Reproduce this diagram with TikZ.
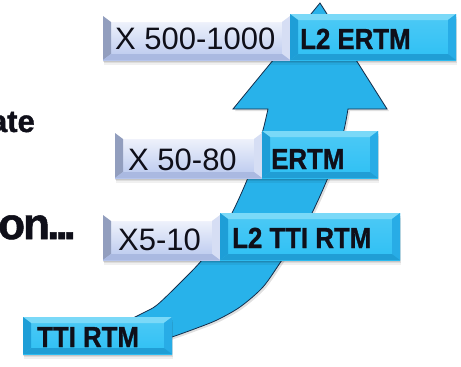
\documentclass[tikz,border=0pt]{standalone}
\usepackage{fontspec}
\setmainfont{Liberation Sans}
\newfontfamily\heavysans[FakeBold=1.2]{Liberation Sans}
\usetikzlibrary{shadows}

\definecolor{arrowfill}{RGB}{40,178,234}
\definecolor{arrowedge}{RGB}{20,45,75}
\definecolor{cyanbody}{RGB}{46,192,244}
\definecolor{cyantop}{RGB}{122,217,248}
\definecolor{cyanleft}{RGB}{30,158,215}
\definecolor{cyanright}{RGB}{40,172,230}
\definecolor{cyanbottom}{RGB}{32,158,213}
\definecolor{paletop}{RGB}{246,248,253}
\definecolor{palebottom}{RGB}{184,199,238}
\definecolor{palefacettop}{RGB}{255,255,255}
\definecolor{palefacetleft}{RGB}{146,158,190}
\definecolor{palefacetright}{RGB}{214,222,244}
\definecolor{palefacetbottom}{RGB}{170,185,225}
\definecolor{ink}{RGB}{15,15,25}

\newlength\facetx
\setlength\facetx{8pt}
\newlength\facety
\setlength\facety{6pt}

\tikzset{
  % bevelled edges: top, left, right, bottom faces
  facets/.style n args={4}{path picture={
    \fill[#1] (path picture bounding box.north west) -- (path picture bounding box.north east)
      -- ([shift={(-\facetx,-\facety)}]path picture bounding box.north east)
      -- ([shift={(\facetx,-\facety)}]path picture bounding box.north west) -- cycle;
    \fill[#2] (path picture bounding box.north west) -- ([shift={(\facetx,-\facety)}]path picture bounding box.north west)
      -- ([shift={(\facetx,\facety)}]path picture bounding box.south west)
      -- (path picture bounding box.south west) -- cycle;
    \fill[#3] (path picture bounding box.north east) -- ([shift={(-\facetx,-\facety)}]path picture bounding box.north east)
      -- ([shift={(-\facetx,\facety)}]path picture bounding box.south east)
      -- (path picture bounding box.south east) -- cycle;
    \fill[#4] (path picture bounding box.south west) -- ([shift={(\facetx,\facety)}]path picture bounding box.south west)
      -- ([shift={(-\facetx,\facety)}]path picture bounding box.south east)
      -- (path picture bounding box.south east) -- cycle;
  }},
  softshadow/.style={
    preaction={fill=black,opacity=.06,transform canvas={xshift=.5pt,yshift=-5pt}},
    preaction={fill=black,opacity=.08,transform canvas={xshift=.5pt,yshift=-3pt}},
    preaction={fill=black,opacity=.10,transform canvas={yshift=-1.5pt}}},
  slab/.style={rectangle, inner sep=0pt, softshadow},
  palebox/.style={slab, top color=paletop, bottom color=palebottom,
    facets={palefacettop}{palefacetleft}{palefacetright}{palefacetbottom}},
  cyanbox/.style={slab, top color=cyanbody!85!white, bottom color=cyanbody,
    facets={cyantop}{cyanleft}{cyanright}{cyanbottom}},
  plainlabel/.style={inner sep=0pt, anchor=base west, text=ink, font=\fontsize{31}{31}\selectfont},
  boldlabel/.style={inner sep=0pt, anchor=base west, text=ink, font=\fontsize{29}{29}\heavysans\bfseries},
  sidelabel/.style={inner sep=0pt, text=ink, font=\fontsize{#1}{#1}\heavysans\bfseries},
  bigarrow/.style={fill=arrowfill, draw=arrowedge, line width=0.8pt, line join=miter,
    preaction={fill=black,opacity=.12,transform canvas={xshift=2pt,yshift=-2pt}}},
}
% bold box captions are set a little condensed
\newcommand\tight[1]{\scalebox{0.89}[1]{#1}}

\begin{document}
\begin{tikzpicture}[x=1pt,y=-1pt]
\useasboundingbox (0,0) rectangle (461,367);

% partially visible words on the left
\node[sidelabel=31, anchor=base east] (ate) at (35,132) {ate};
\node[sidelabel=44, anchor=base west] (on) at (-2,239) {o\kern-2pt n\kern-2.8pt.\kern-3.7pt.\kern-4.2pt.};

% the curved rising arrow
\path[bigarrow]
  plot[smooth] coordinates {(150,344) (172,337) (197,328) (217,320) (240,307) (263,287)
    (282,260) (298,237) (312,213) (327,180) (336,155) (344,130) (348,109)}
  -- (387,109) -- (320,3) -- (233,109)
  -- plot[smooth] coordinates {(268,109) (263,130) (255,155) (247,180) (232,213)
    (217,237) (202,260) (180,283) (157,305) (143,313) (125,322)}
  -- cycle;

% top row
\node[palebox, minimum width=187pt, minimum height=44pt] (lb1) at (196.5,38) {};
\node[cyanbox, minimum width=166pt, minimum height=46pt] (bb1) at (373,37) {};
\node[plainlabel] (lb1t) at (115,49) {X 500-1000};
\node[boldlabel] (bb1t) at (300,49) {\tight{L2 ERTM}};

% second row
\node[palebox, minimum width=147pt, minimum height=45pt] (lb2) at (188.5,155.5) {};
\node[cyanbox, minimum width=116pt, minimum height=47pt] (bb2) at (320,154.5) {};
\node[plainlabel] (lb2t) at (128,170) {X 50-80};
\node[boldlabel] (bb2t) at (271,169) {\tight{ERTM}};

% third row
\node[palebox, minimum width=117pt, minimum height=45pt] (lb3) at (161.5,237.5) {};
\node[cyanbox, minimum width=180pt, minimum height=47pt] (bb3) at (310,236.5) {};
\node[plainlabel] (lb3t) at (118,250) {X5-10};
\node[boldlabel] (bb3t) at (232,248) {\tight{L2 TTI RTM}};

% starting point
\node[cyanbox, minimum width=149pt, minimum height=37pt] (bb4) at (97.5,335.5) {};
\node[boldlabel] (bb4t) at (37,347) {\tight{TTI RTM}};
\end{tikzpicture}
\end{document}
